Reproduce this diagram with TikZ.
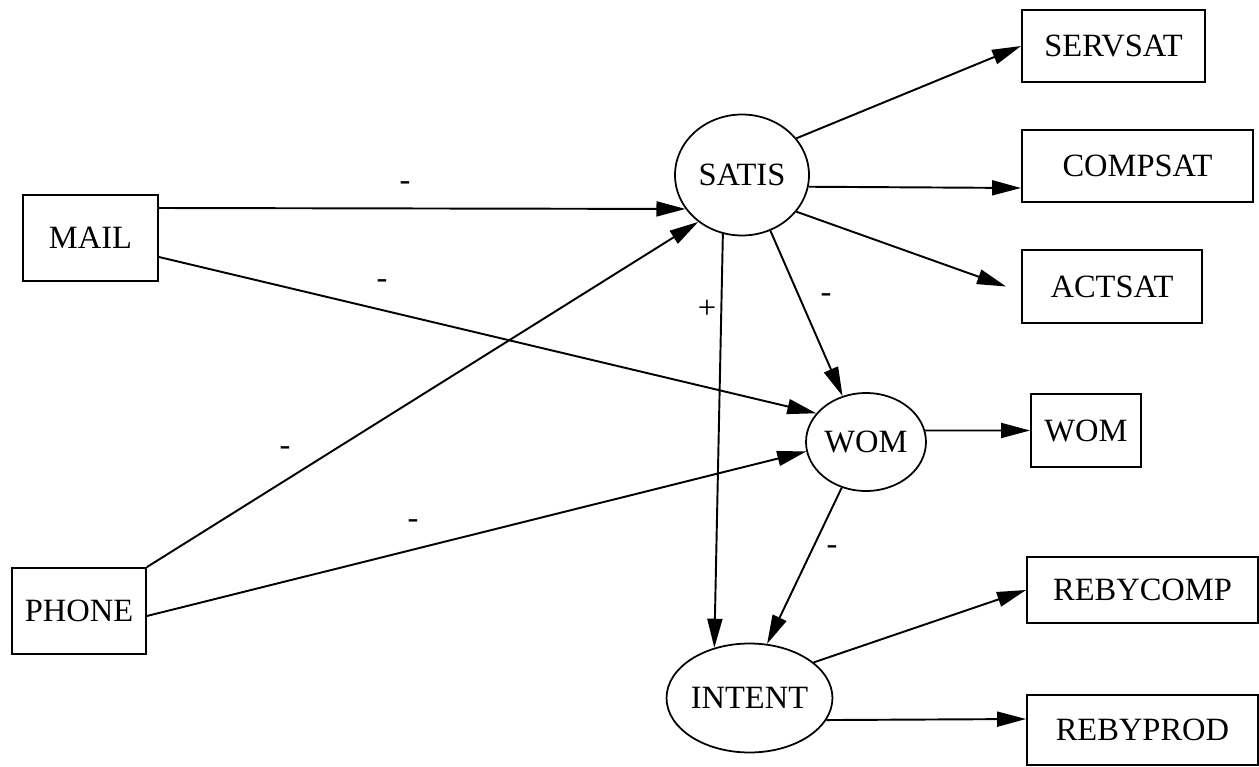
\documentclass[tikz,border=0pt]{standalone}
\usepackage{fontspec}
\setmainfont{Liberation Serif}
\usetikzlibrary{arrows.meta,shapes.geometric}

\tikzset{
  lbl/.style={font=\fontsize{18.5pt}{22pt}\selectfont},
  var/.style={lbl, draw, line width=1.1pt, rectangle, inner sep=0pt},
  latent/.style={lbl, draw, line width=1pt, ellipse, inner sep=0pt},
  path/.style={line width=1.1pt, -{Triangle[length=0.58cm, width=0.3cm]}},
  sign/.style={lbl, inner sep=0pt}
}

\begin{document}
\begin{tikzpicture}[x=0.02cm, y=-0.02cm]
  \useasboundingbox (0,0) rectangle (1259,767);

  % observed indicators
  \node[var, minimum width=2.7cm,  minimum height=1.72cm] (mail)     at (90.5,238)  {MAIL};
  \node[var, minimum width=2.68cm, minimum height=1.72cm] (phone)    at (79,611)    {PHONE};
  \node[var, minimum width=3.66cm, minimum height=1.44cm] (servsat)  at (1113.5,46) {SERVSAT};
  \node[var, minimum width=4.62cm, minimum height=1.44cm] (compsat)  at (1137.5,166){COMPSAT};
  \node[var, minimum width=3.6cm,  minimum height=1.46cm] (actsat)   at (1112,286.5){ACTSAT};
  \node[var, minimum width=2.2cm,  minimum height=1.46cm] (wombox)   at (1086,430.5){WOM};
  \node[var, minimum width=4.62cm, minimum height=1.32cm] (rebycomp) at (1142.5,590){REBYCOMP};
  \node[var, minimum width=4.62cm, minimum height=1.4cm]  (rebyprod) at (1142.5,730){REBYPROD};

  % latent constructs
  \node[latent, minimum width=2.68cm, minimum height=2.42cm] (satis)  at (742,175)   {SATIS};
  \node[latent, minimum width=2.4cm,  minimum height=1.96cm] (wom)    at (866,442)   {WOM};
  \node[latent, minimum width=2.7cm,  minimum height=2.18cm] (intent) at (749.5,698) {INTENT};

  % structural paths
  \draw[path] ([yshift=0.6cm]mail.east)   -- (satis.211);
  \draw[path] ([yshift=-0.38cm]mail.east) -- (wom.150);
  \draw[path] (phone.north east)          -- (satis.227);
  \draw[path] ([yshift=-0.1cm]phone.east) -- (wom.189);
  \draw[path] (satis.297) -- (wom.117);
  \draw[path] (satis.252) -- (intent.125);
  \draw[path] (wom.242)   -- (intent.72);

  % measurement paths
  \draw[path] (satis.34)  -- (servsat.west);
  \draw[path] (satis.350) -- ([yshift=-0.44cm]compsat.west);
  \draw[path] (satis.326) -- ([xshift=-0.3cm]actsat.west);
  \draw[path] (wom.11)    -- (wombox.west);
  \draw[path] (intent.29) -- (rebycomp.west);
  \draw[path] (intent.344)-- ([yshift=0.22cm]rebyprod.west);

  % path signs
  \node[sign] (s1) at (405,186) {-};
  \node[sign] (s2) at (382,284) {-};
  \node[sign] (s3) at (285,451) {-};
  \node[sign] (s4) at (413,524) {-};
  \node[sign] (s5) at (707,309) {+};
  \node[sign] (s6) at (826,298) {-};
  \node[sign] (s7) at (832,550) {-};
\end{tikzpicture}
\end{document}
